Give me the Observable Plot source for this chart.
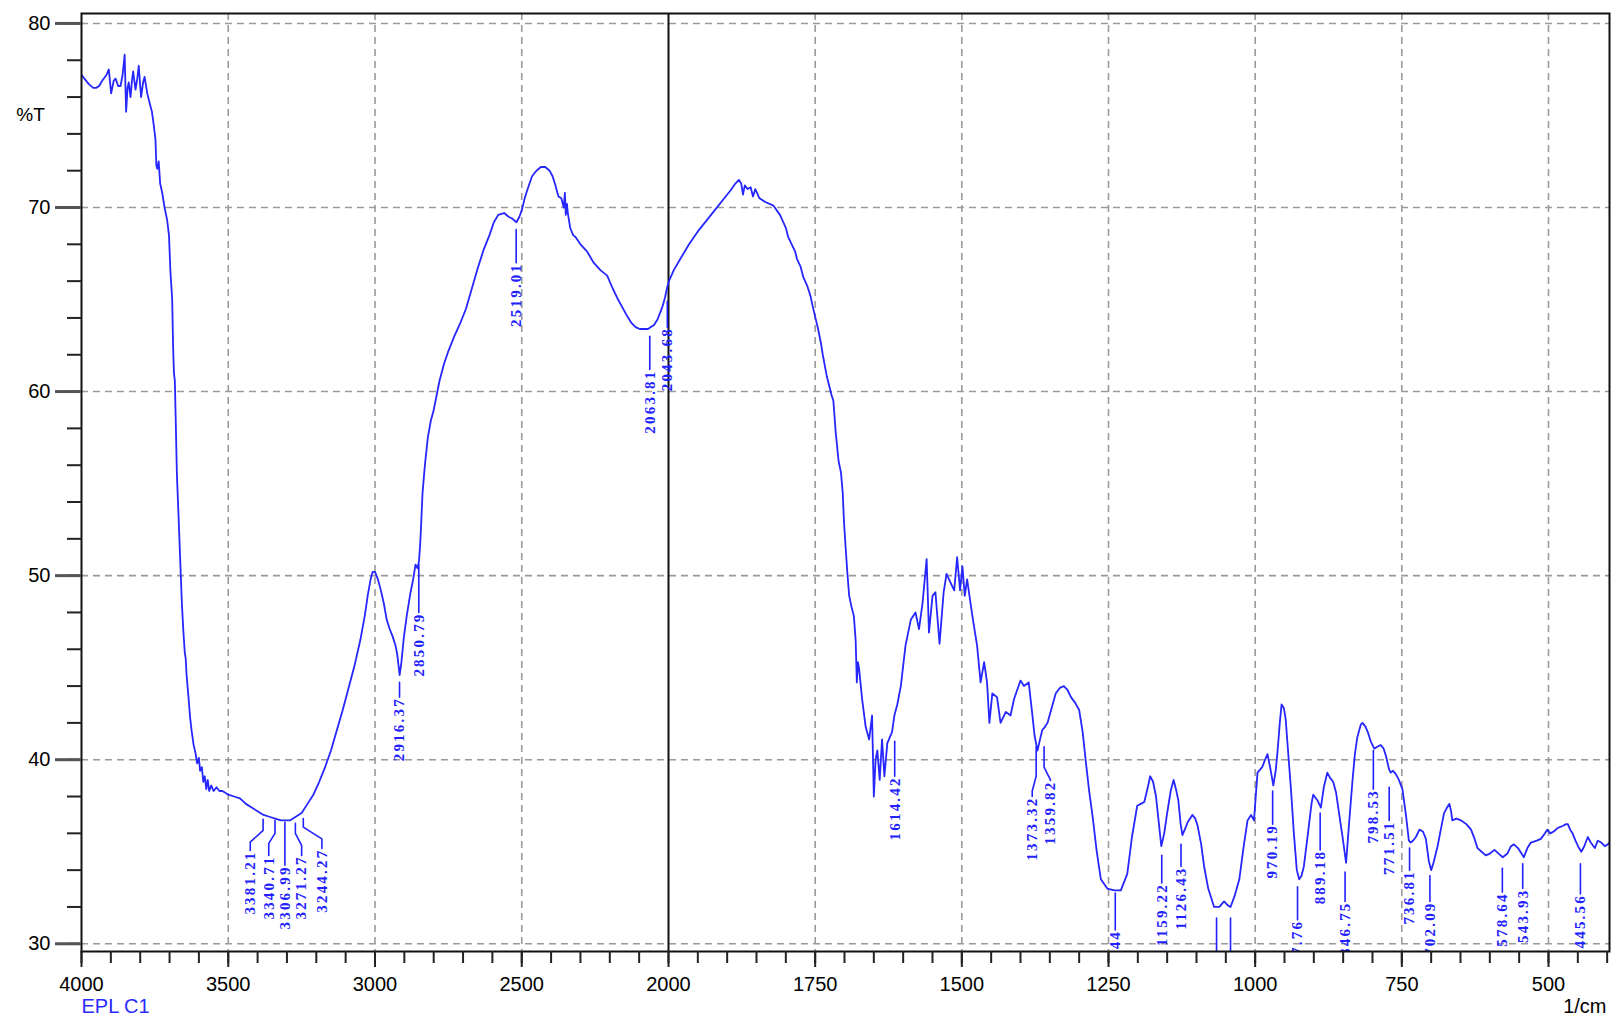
<!DOCTYPE html>
<html>
<head>
<meta charset="utf-8">
<script src="https://cdn.jsdelivr.net/npm/d3@7"></script>
<script src="https://cdn.jsdelivr.net/npm/@observablehq/plot@0.6"></script>
<style>
html, body { margin: 0; padding: 0; background: #fff; }
#chart svg { display: block; }
g[fill="#2121ff"] text, .peaklab text { letter-spacing: 2.2px; }
</style>
</head>
<body>
<div id="chart"></div>
<script>
// ---------------- data ----------------
const wavenumber = [
4000,3990,3975,3960,3950,3940,3929,3915,3907,3899,3890,3884,3875,3867,3860,3853,3848,3843,3839,3833,
3828,3824,3816,3810,3805,3797,3790,3785,3776,3765,3760,3754,3748,3745,3742,3737,3732,3725,3717,3708,
3702,3697,3691,3688,3685,3682,3679,3675,3670,3664,3658,3653,3648,3645,3642,3636,3630,3625,3618,3612,
3606,3600,3596,3590,3585,3580,3575,3570,3565,3558,3550,3540,3530,3520,3510,3500,3480,3460,3440,3420,
3400,3380,3360,3340,3320,3306,3290,3270,3250,3230,3210,3190,3170,3150,3130,3110,3090,3070,3050,3035,
3025,3015,3008,3000,2990,2980,2970,2960,2950,2940,2930,2924,2916,2910,2902,2892,2880,2870,2862,2855,
2850,2845,2838,2830,2820,2810,2800,2790,2780,2765,2750,2730,2710,2690,2670,2650,2630,2610,2595,2580,
2560,2545,2533,2518,2508,2499,2490,2480,2465,2450,2435,2420,2405,2395,2385,2375,2365,2357,2353,2350,
2346,2343,2335,2325,2317,2300,2277,2255,2232,2209,2190,2175,2158,2141,2125,2112,2098,2084,2070,2061,
2050,2038,2028,2021,2012,2004,1998,1991,1980,1965,1950,1935,1920,1905,1895,1886,1880,1876,1873,1870,
1865,1860,1856,1852,1845,1835,1821,1810,1800,1796,1790,1784,1781,1775,1770,1763,1758,1754,1748,1745,
1740,1737,1730,1726,1722,1719,1715,1710,1706,1703,1701,1698,1695,1692,1688,1684,1681,1679,1677,1675,
1670,1664,1658,1653,1650,1647,1644,1640,1636,1632,1627,1619,1615,1610,1604,1596,1587,1579,1573,1567,
1560,1556,1550,1545,1538,1531,1526,1519,1513,1508,1503,1499,1495,1491,1482,1474,1468,1462,1457,1453,
1448,1440,1434,1425,1417,1411,1400,1394,1386,1380,1376,1371,1366,1363,1358,1354,1347,1340,1333,1326,
1320,1314,1307,1300,1294,1289,1283,1277,1270,1263,1252,1240,1229,1218,1210,1201,1195,1189,1183,1179,
1174,1169,1164,1160,1155,1150,1144,1139,1135,1131,1127,1124,1120,1115,1107,1102,1098,1092,1087,1080,
1070,1061,1053,1047,1042,1035,1027,1020,1013,1007,1002,996,988,983,979,974,969,965,962,958,
955,951,948,944,939,934,929,925,921,917,910,904,901,894,888,883,877,872,867,862,
857,851,845,840,834,830,826,820,817,812,808,803,797,792,786,781,777,772,769,765,
760,755,749,743,738,735,731,726,720,714,709,704,700,696,689,683,678,673,669,666,
664,657,649,640,632,626,621,614,607,600,592,585,578,570,564,559,552,546,542,536,
530,520,513,506,502,497,491,484,476,470,467,463,459,454,448,444,439,433,428,421,
416,410,404,399,396
];
const transmittance = [
77.2,77.0,76.7,76.5,76.5,76.6,76.9,77.2,77.5,76.2,76.9,77.0,76.6,76.6,77.2,78.3,75.2,76.5,76.8,76.0,
76.9,77.4,76.4,77.0,77.7,76.0,76.8,77.1,76.2,75.5,75.2,74.5,73.7,72.3,72.1,72.5,71.3,70.8,70.0,69.3,
68.5,66.5,65.0,62.5,61.0,60.6,58.5,55.5,53.5,51.0,48.5,47.0,45.8,45.5,44.6,43.5,42.3,41.6,40.8,40.4,
39.8,40.1,39.4,39.6,38.8,39.1,38.4,38.9,38.3,38.6,38.3,38.5,38.3,38.3,38.2,38.1,38.0,37.9,37.6,37.4,
37.2,37.0,36.9,36.8,36.7,36.7,36.7,36.9,37.1,37.6,38.1,38.8,39.6,40.5,41.6,42.7,43.9,45.1,46.5,47.8,
48.9,49.8,50.2,50.2,49.8,49.2,48.5,47.6,47.1,46.7,46.2,45.7,44.6,45.3,46.6,47.8,49.0,49.8,50.6,50.4,
50.8,52.0,54.5,56.0,57.5,58.4,59.0,59.8,60.6,61.5,62.2,63.0,63.7,64.5,65.6,66.7,67.7,68.5,69.2,69.6,
69.7,69.5,69.4,69.2,69.5,69.9,70.5,71.0,71.7,72.0,72.2,72.2,72.0,71.7,71.2,70.6,70.5,70.0,70.8,69.6,
70.2,69.7,68.9,68.5,68.4,68.0,67.6,67.0,66.6,66.3,65.6,65.1,64.6,64.1,63.7,63.5,63.4,63.4,63.4,63.5,
63.6,63.9,64.3,64.6,65.1,65.7,66.1,66.6,67.2,68.0,68.7,69.3,69.9,70.5,70.9,71.3,71.5,71.3,70.7,71.2,
71.0,71.1,70.6,71.0,70.5,70.3,70.1,69.6,68.9,68.4,68.0,67.6,67.2,66.8,66.2,65.7,65.2,64.6,63.8,63.4,
62.6,62.0,60.8,60.3,59.8,59.5,57.8,56.2,55.6,54.5,53.0,51.5,50.1,48.9,48.3,47.8,46.5,44.2,45.3,44.9,
43.3,41.8,41.1,42.4,38.0,40.0,40.5,38.9,41.1,39.1,40.9,41.5,42.4,43.0,44.0,46.2,47.6,48.0,47.1,48.5,
50.9,46.9,48.9,49.1,46.3,49.1,50.1,49.6,49.2,51.0,49.2,50.5,48.9,49.8,47.8,46.2,44.2,45.3,44.2,42.0,
43.6,43.4,42.0,42.6,42.4,43.3,44.3,44.0,44.2,42.5,41.3,40.5,41.2,41.6,41.8,42.0,42.8,43.6,43.9,44.0,
43.8,43.4,43.1,42.7,41.5,40.0,38.3,36.9,35.0,33.5,33.0,32.9,32.9,33.8,35.8,37.5,37.6,37.7,38.5,39.1,
38.8,38.0,36.5,35.3,36.0,37.1,38.3,38.9,38.4,37.8,36.5,35.9,36.2,36.6,37.0,36.8,36.4,35.4,34.2,33.0,
32.0,32.0,32.3,32.1,32.0,32.6,33.5,35.2,36.7,37.0,36.7,39.3,39.6,40.0,40.3,39.5,38.6,39.4,40.4,42.0,
43.0,42.8,42.2,40.5,38.4,36.0,34.0,33.5,33.7,34.2,36.0,37.6,38.1,37.8,37.4,38.5,39.3,39.0,38.8,38.2,
37.1,35.8,34.4,36.5,38.9,40.3,41.2,41.9,42.0,41.8,41.5,41.0,40.6,40.7,40.8,40.6,40.2,39.5,39.3,39.4,
39.2,38.9,38.4,37.0,35.6,35.5,35.6,35.8,36.2,36.1,35.7,34.5,34.0,34.4,35.3,36.3,37.1,37.4,37.6,37.2,
36.7,36.8,36.7,36.5,36.2,35.7,35.2,35.0,34.8,34.9,35.1,34.9,34.7,34.9,35.3,35.4,35.2,34.9,34.7,35.2,
35.5,35.6,35.7,36.0,36.2,36.0,36.1,36.3,36.4,36.5,36.5,36.2,36.0,35.6,35.2,35.0,35.3,35.8,35.5,35.2,
35.6,35.5,35.3,35.4,35.5
];

// peak annotations
const peakLabels = ["3381.21","3340.71","3306.99","3271.27","3244.27","2916.37","2850.79","2519.01",
  "2063.81","2043.68","1614.42","1373.32","1359.82","1238.44","1159.22","1126.43","970.19","927.76",
  "889.18","846.75","798.53","771.51","736.81","702.09","578.64","543.93","445.56"];
const labelAt = [3425,3362,3306.99,3250,3181,2916.37,2850.79,2519.01,
  2063.81,2004,1614.42,1380,1349,1238.44,1159.22,1126.43,970.19,927.76,
  889.18,846.75,798.53,771.51,736.81,702.09,578.64,543.93,445.56];
const leaderTop = [36.76,36.7,36.6,36.54,36.8,44.2,50.6,68.8,
  63.0,64.9,41.0,40.7,40.7,32.75,34.8,35.4,38.3,33.1,
  37.1,33.9,40.5,38.5,35.2,33.7,34.1,34.35,34.35];
const bendHigh = [36.16,36.0,null,36.0,36.34,null,null,null,
  null,null,null,39.1,39.6,null,null,null,null,null,
  null,null,null,null,null,null,null,null,null];
const bendLow = [35.52,35.45,null,35.34,35.7,null,null,null,
  null,null,null,38.3,38.9,null,null,null,null,null,
  null,null,null,null,null,null,null,null,null];
const textTop = [35.07,34.8,34.26,34.8,35.17,43.4,48.0,67.0,
  61.2,63.5,39.1,38.0,38.87,30.75,33.3,34.2,36.5,31.3,
  35.1,32.3,38.4,36.7,34.0,32.3,32.8,33.0,32.7];
const unlabeledPeaks = [1065.8, 1042.0];

// axis ticks
const xMajorTicks = [4000,3500,3000,2500,2000,1750,1500,1250,1000,750,500];
const xMinorTicks = [...d3.range(4000, 2000, -100), ...d3.range(2000, 395, -50)];
const yMajorTicks = [30,40,50,60,70,80];
const yMinorTicks = d3.range(30, 81, 2);

// ---------------- build ----------------
const spectrum = wavenumber.map((w, i) => ({w, t: transmittance[i]}));
const labels = peakLabels.map((lab, i) => ({label: lab, xt: labelAt[i], top: textTop[i]}));
const leaders = [];
peakLabels.forEach((lab, i) => {
  const w = +lab, xt = labelAt[i];
  const pts = bendHigh[i] == null
    ? [[xt, leaderTop[i]], [xt, textTop[i]]]
    : [[w, leaderTop[i]], [w, bendHigh[i]], [xt, bendLow[i]], [xt, textTop[i]]];
  pts.forEach(p => leaders.push({id: i, w: p[0], t: p[1]}));
});
unlabeledPeaks.forEach((w, j) => {
  leaders.push({id: 100 + j, w, t: 31.4});
  leaders.push({id: 100 + j, w, t: 28.5});
});

const blue = "#2626ff";
const chart = Plot.plot({
  width: 1612,
  height: 1025,
  marginLeft: 81,
  marginRight: 3,
  marginTop: 13,
  marginBottom: 74,
  style: {fontFamily: "'Liberation Sans', Arial, sans-serif", fontSize: "20px", background: "#fff", color: "#000"},
  x: {type: "linear", domain: [4000, 2000, 396], range: [81, 668, 1609]},
  y: {domain: [29.58, 80.54]},
  marks: [
    Plot.ruleX(xMajorTicks.filter(d => d !== 2000 && d !== 4000), {stroke: "#9a9a9a", strokeWidth: 1.6, strokeDasharray: "7,5"}),
    Plot.ruleY(yMajorTicks, {stroke: "#9a9a9a", strokeWidth: 1.6, strokeDasharray: "7,5"}),
    Plot.ruleX([2000], {stroke: "#111", strokeWidth: 2}),
    Plot.line(spectrum, {x: "w", y: "t", stroke: blue, strokeWidth: 1.8, clip: true}),
    Plot.line(leaders, {x: "w", y: "t", z: "id", stroke: "#2121ff", strokeWidth: 1.6, clip: true}),
    Plot.text(labels, {x: "xt", y: "top", text: "label", rotate: -90, textAnchor: "end", lineAnchor: "middle",
      fill: "#2121ff", fontFamily: "'Liberation Serif', 'Times New Roman', serif", fontWeight: "bold", fontSize: 15,
      clip: true, className: "peaklab"}),
    Plot.frame({stroke: "#111", strokeWidth: 2}),
    Plot.axisY(yMinorTicks, {tickSize: 14, fill: "none", stroke: "#222", strokeWidth: 2, label: null}),
    Plot.axisY(yMajorTicks, {tickSize: 26, tickPadding: 5, stroke: "#555", strokeWidth: 3, fill: "#000",
      fontSize: 20, label: null, tickFormat: d => String(d)}),
    Plot.axisX(xMinorTicks, {tickSize: 12, fill: "none", stroke: "#222", strokeWidth: 2, label: null}),
    Plot.axisX(xMajorTicks, {tickSize: 16, tickPadding: 9, stroke: "#222", strokeWidth: 2, fill: "#000",
      fontSize: 20, label: null, tickFormat: d => String(d)}),
    Plot.text(["%T"], {text: d => d, frameAnchor: "top-left", dx: -51, dy: 94, textAnchor: "middle", fontSize: 19, fill: "#000"}),
    Plot.text(["EPL C1"], {text: d => d, frameAnchor: "bottom-left", dx: 0, dy: 61, textAnchor: "start", fontSize: 20, fill: "#2a2aff"}),
    Plot.text(["1/cm"], {text: d => d, frameAnchor: "bottom-right", dx: -3, dy: 61, textAnchor: "end", fontSize: 20, fill: "#000"})
  ]
});
document.getElementById("chart").appendChild(chart);
</script>
</body>
</html>
